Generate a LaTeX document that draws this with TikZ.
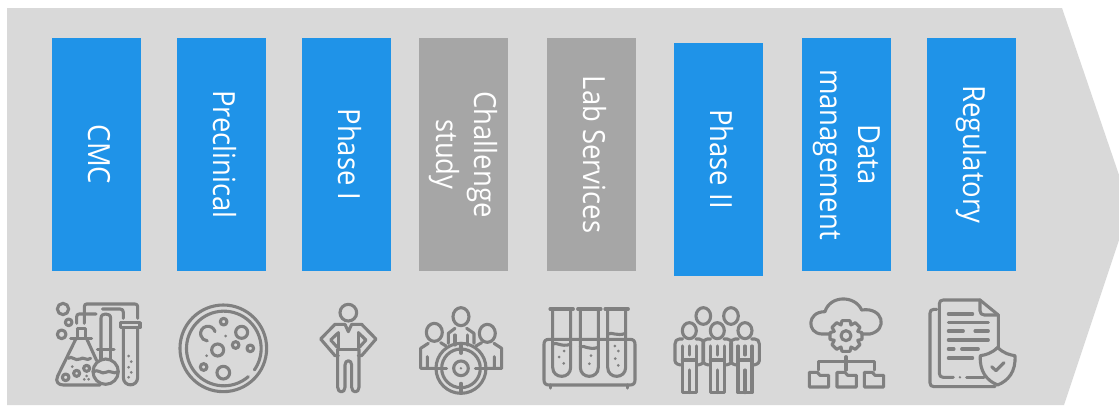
\documentclass[tikz,border=0pt]{standalone}
\usepackage{fontspec}
\setmainfont[FakeStretch=0.9]{Open Sans}
\definecolor{bgc}{HTML}{D9D9D9}
\definecolor{bluec}{HTML}{1F93E8}
\definecolor{grayc}{HTML}{A6A6A6}
\definecolor{iconc}{HTML}{808080}
\tikzset{
  bar/.style={rotate=-90,minimum width=233pt,minimum height=89pt,inner sep=0pt,text=white,
    font=\fontsize{30.5}{37.6}\selectfont},
  bluebar/.style={bar,fill=bluec},
  graybar/.style={bar,fill=grayc},
  oneline/.style={text height=16pt,text depth=0pt},
  twoline/.style={align=center},
  ic/.style={draw=iconc,line width=3.1pt,line cap=round,line join=round}
}
\newcommand{\zdots}[1]{\foreach \p in {#1} \fill[iconc] \p circle (4.5);}
\begin{document}
\begin{tikzpicture}[x=1pt,y=-1pt]
\useasboundingbox (0,0) rectangle (1119,405);
\fill[white] (0,0) rectangle (1119,405);
\fill[bgc] (7,8) -- (1062,8) -- (1119,175) -- (1119,240) -- (1064,405) -- (7,405) -- cycle;

\node[bluebar,oneline] (cmc) at (96.5,154.5) {CMC};
\node[bluebar,oneline] (pre) at (221.5,154.5) {Preclinical};
\node[bluebar,oneline] (ph1) at (346.5,154.5) {Phase I};
\node[graybar,twoline] (cha) at (463.5,154.5) {Challenge\\study};
\node[graybar,oneline] (lab) at (591.5,154.5) {Lab Services};
\node[bluebar,oneline] (ph2) at (718.5,159) {Phase II};
\node[bluebar,twoline] (dat) at (846.5,154.5) {Data\\management};
\node[bluebar,oneline] (reg) at (971.5,154.5) {Regulatory};

% icons 1-2
\begin{scope}[shift={(40,290)},scale=0.3333]
  \draw[ic] (69,57) circle (17) (86,97) circle (10) (65,133) circle (13);
  \draw[ic] (112,115) -- (137,115) -- (137,146) (112,115) -- (112,146) (92,146) -- (155,146);
  \draw[ic] (108,146) -- (53,258) .. controls (45,275) and (55,285) .. (70,285) -- (180,285);
  \draw[ic] (140,146) -- (170,212);
  \draw[ic] (85,205) .. controls (95,195) and (105,215) .. (120,207) .. controls (130,198) and (140,215) .. (152,205);
  \draw[ic] (77,262) circle (10) (110,250) circle (9) (140,235) circle (9);
  \zdots{(97,230),(133,268),(146,268),(140,258)}
  \draw[ic] (197,245) circle (38);
  \draw[ic] (172,178) -- (222,178) (183,178) -- (183,210) (212,178) -- (212,210);
  \draw[ic] (160,245) .. controls (175,235) and (185,255) .. (197,247) .. controls (210,238) and (220,255) .. (234,245);
  \draw[ic] (183,178) -- (183,85) .. controls (183,75) and (190,72) .. (197,72) .. controls (205,72) and (212,75) .. (212,85) -- (212,178);
  \draw[ic] (110,100) -- (110,80) .. controls (110,74) and (113,72) .. (118,72) -- (168,72);
  \draw[ic] (133,100) -- (133,50) .. controls (133,45) and (136,42) .. (140,42) -- (285,42) .. controls (290,42) and (293,45) .. (293,50) -- (293,85);
  \draw[ic] (187,57) -- (240,57) .. controls (247,57) and (250,60) .. (250,67) -- (250,85);
  \draw[ic] (242,98) rectangle (300,113);
  \draw[ic] (250,113) -- (250,262) .. controls (250,292) and (293,292) .. (293,262) -- (293,113);
  \zdots{(266,198),(274,215),(266,232),(274,247),(266,262)}
  % petri dish
  \draw[ic] (550,175) circle (130);
  \draw[ic] (625,260) arc (49:395:112);
  \draw[ic] (551,95) circle (10) (605,127) circle (18) (587,165) circle (10)
            (631,175) circle (10) (533,180) circle (18) (491,231) circle (10) (550,248) circle (19);
  \draw[ic] (525,125) arc (-15:-265:22);
  \zdots{(557,138),(500,197)}
\end{scope}

% icons 3-4
\begin{scope}[shift={(290,290)},scale=0.3333]
  \draw[ic] (175,68) circle (25);
  \draw[ic] (165,103) -- (135,103) -- (92,147) -- (135,197) -- (145,197);
  \draw[ic] (185,103) -- (215,103) -- (258,147) -- (215,197) -- (205,197);
  \draw[ic] (165,103) -- (175,125) -- (185,103);
  \draw[ic] (145,128) -- (122,150) -- (142,172);
  \draw[ic] (205,128) -- (228,150) -- (208,172);
  \draw[ic] (145,128) -- (145,178) -- (205,178) -- (205,128);
  \draw[ic] (143,178) -- (143,292) .. controls (143,310) and (165,310) .. (165,292) -- (165,225)
        .. controls (165,208) and (185,208) .. (185,225) -- (185,292)
        .. controls (185,310) and (207,310) .. (207,292) -- (207,178);
  % target team
  \draw[ic] (513,235) circle (75) (513,235) circle (58) (513,235) circle (22);
  \fill[iconc] (513,235) circle (4);
  \draw[ic] (513,160) -- (513,190) (513,280) -- (513,310) (438,235) -- (470,235) (556,235) -- (588,235);
  \draw[ic] (513,80) ellipse (24 and 27) (433,127) ellipse (24 and 27) (592,130) ellipse (24 and 27);
  \draw[ic] (475,160) -- (475,130) -- (495,115) (530,115) -- (552,130) -- (552,160);
  \draw[ic] (495,135) -- (495,165) (532,135) -- (532,165);
  \draw[ic] (438,235) -- (392,235) -- (392,175) -- (415,160) (452,158) -- (468,168) (412,200) -- (412,235);
  \draw[ic] (588,235) -- (635,235) -- (635,175) -- (612,160) (575,158) -- (558,168) (613,200) -- (613,235);
\end{scope}

% icons 5-6
\begin{scope}[shift={(530,290)},scale=0.3333]
  \foreach \c in {95,178,260} {
    \draw[ic] (\c-35,57) -- (\c+35,57);
    \draw[ic] (\c-27,57) -- (\c-27,232) .. controls (\c-27,268) and (\c+27,268) .. (\c+27,232) -- (\c+27,57);
  }
  \draw[ic] (57,148) -- (300,148) .. controls (310,148) and (315,153) .. (315,163) -- (315,270)
     .. controls (315,280) and (310,285) .. (300,285) -- (57,285)
     .. controls (47,285) and (42,280) .. (42,270) -- (42,163) .. controls (42,153) and (47,148) .. (57,148) -- cycle;
  \draw[ic] (62,285) -- (62,294) (293,285) -- (293,294);
  \draw[ic] (68,162) .. controls (82,155) and (90,172) .. (122,163);
  \draw[ic] (151,170) .. controls (165,165) and (175,182) .. (205,172);
  \draw[ic] (233,132) .. controls (247,125) and (260,140) .. (287,130);
  \zdots{(102,183),(87,201),(101,220),(183,197),(178,221),(255,168),(265,183),(256,206),(265,226)}
  % group
  \draw[ic] (520,78) ellipse (22 and 25) (603,78) ellipse (22 and 25);
  \foreach \c in {478,562,645} {
    \draw[ic] (\c,122) ellipse (21 and 24);
    \draw[ic] (\c-20,147) -- (\c-30,147) .. controls (\c-38,147) and (\c-43,153) .. (\c-43,162) -- (\c-43,212) .. controls (\c-43,222) and (\c-30,225) .. (\c-22,225);
    \draw[ic] (\c+20,147) -- (\c+30,147) .. controls (\c+38,147) and (\c+43,153) .. (\c+43,162) -- (\c+43,212) .. controls (\c+43,222) and (\c+30,225) .. (\c+22,225);
    \draw[ic] (\c-21,168) -- (\c-21,308) -- (\c+21,308) -- (\c+21,168);
    \draw[ic] (\c-21,210) -- (\c+21,210);
    \draw[ic] (\c,168) -- (\c,195);
    \draw[ic] (\c,240) -- (\c,308);
  }
  \zdots{(459,171),(666,260)}
\end{scope}

% icons 7-8
\begin{scope}[shift={(780,290)},scale=0.3333]
  \draw[ic] (150,132) -- (125,132) .. controls (80,130) and (80,65) .. (135,65)
     .. controls (150,15) and (225,15) .. (245,60)
     .. controls (310,50) and (325,120) .. (270,132) -- (245,132);
  % gear
  \draw[ic] (186,92) -- (210,92) -- (213,105) -- (226,98) -- (240,112) -- (233,124) -- (246,128) -- (246,148) -- (233,151)
    -- (240,164) -- (226,178) -- (213,171) -- (210,184) -- (186,184) -- (183,171) -- (170,178) -- (156,164) -- (163,151)
    -- (150,148) -- (150,128) -- (163,124) -- (156,112) -- (170,98) -- (183,105) -- cycle;
  \draw[ic] (198,137) circle (15);
  \draw[ic] (198,200) -- (198,240) (115,240) -- (115,215) -- (283,215) -- (283,240);
  \foreach \c in {117,200,282} {
    \draw[ic] (\c-29,247) -- (\c-5,247) -- (\c+3,256) -- (\c+29,256) -- (\c+29,291) -- (\c-29,291) -- cycle;
  }
  % document
  \draw[ic] (655,175) -- (655,75) -- (600,30) -- (490,30) .. controls (482,30) and (478,34) .. (478,42) -- (478,250)
     .. controls (478,258) and (482,262) .. (490,262) -- (520,262);
  \fill[iconc] (540,262) circle (4);
  \draw[ic] (560,262) -- (612,262);
  \draw[ic] (600,30) -- (600,62) .. controls (600,70) and (605,75) .. (613,75) -- (655,75);
  \draw[ic] (470,58) -- (462,58) .. controls (454,58) and (450,62) .. (450,70) -- (450,278) .. controls (450,286) and (454,290) .. (462,290) -- (645,290);
  \draw[ic] (505,72) -- (578,72) (505,98) -- (625,98) (505,123) -- (550,123) (585,123) -- (625,123)
     (505,150) -- (625,150) (505,177) -- (522,177) (545,177) -- (595,177) (505,204) -- (578,204);
  \draw[ic] (653,172) .. controls (670,190) and (690,195) .. (705,197)
     .. controls (708,245) and (685,272) .. (653,285)
     .. controls (621,272) and (598,245) .. (601,197)
     .. controls (616,195) and (636,190) .. (653,172) -- cycle;
  \draw[ic] (635,230) -- (648,242) -- (672,218);
\end{scope}
\end{tikzpicture}
\end{document}
